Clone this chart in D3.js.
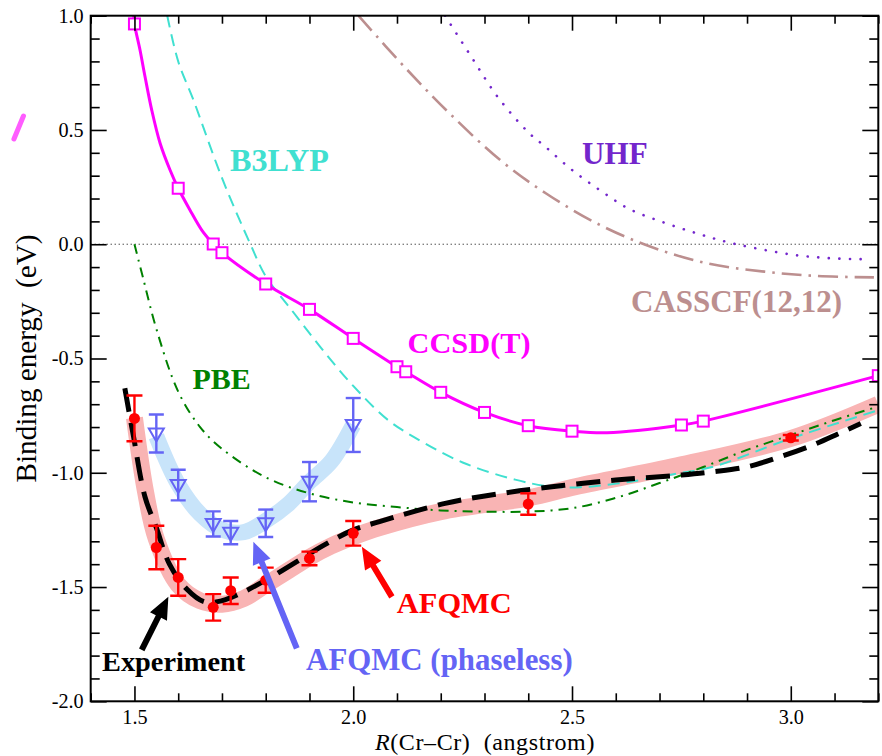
<!DOCTYPE html>
<html><head><meta charset="utf-8">
<script src="https://cdn.jsdelivr.net/npm/d3@7"></script>
<style>
body{margin:0;background:#fff;}
svg{display:block;}
</style>
</head><body>
<svg id="chart" width="882" height="756"></svg>
<script>
// ---------------- data ----------------
const xMajorTicks = [1.5, 2.0, 2.5, 3.0];
const xTickLabels = ["1.5", "2.0", "2.5", "3.0"];
const yMajorTicks = [1.0, 0.5, 0.0, -0.5, -1.0, -1.5, -2.0];
const yTickLabels = ["1.0", "0.5", "0.0", "-0.5", "-1.0", "-1.5", "-2.0"];

// CCSD(T) computed points
const ccsdR = [1.5, 1.6, 1.68, 1.7, 1.8, 1.9, 2.0, 2.1, 2.12, 2.2, 2.3, 2.4, 2.5, 2.75, 2.8, 3.2];
const ccsdE = [0.964, 0.245, 0.001, -0.037, -0.174, -0.285, -0.412, -0.536, -0.558, -0.648, -0.736, -0.794, -0.818, -0.791, -0.774, -0.575];
// CCSD(T) fitted curve
const ccsdFitR = [1.4985, 1.5, 1.5127, 1.5242, 1.5395, 1.5586, 1.5813, 1.6, 1.6268, 1.6538, 1.68, 1.70, 1.8, 1.9, 2.0, 2.1, 2.12, 2.2, 2.3, 2.4, 2.5, 2.58, 2.75, 2.8, 3.2];
const ccsdFitE = [1.0, 0.964, 0.85, 0.733, 0.587, 0.442, 0.325, 0.245, 0.15, 0.062, 0.001, -0.037, -0.174, -0.285, -0.412, -0.536, -0.558, -0.648, -0.736, -0.794, -0.818, -0.825, -0.791, -0.774, -0.575];

// B3LYP
const b3lypR = [1.575, 1.60, 1.635, 1.70, 1.765, 1.80, 1.86, 1.925, 2.0, 2.08, 2.14, 2.25, 2.37, 2.45, 2.52, 2.63, 2.75, 2.82, 3.0, 3.2];
const b3lypE = [1.0, 0.80, 0.63, 0.29, 0.0, -0.14, -0.29, -0.45, -0.62, -0.77, -0.845, -0.955, -1.03, -1.06, -1.063, -1.04, -1.0, -0.975, -0.85, -0.726];

// PBE
const pbeR = [1.5, 1.52, 1.55, 1.6, 1.65, 1.7, 1.8, 1.9, 2.0, 2.1, 2.2, 2.3, 2.4, 2.5, 2.6, 2.7, 2.8, 2.9, 3.0, 3.1, 3.2];
const pbeE = [0.0, -0.15, -0.37, -0.645, -0.80, -0.895, -1.02, -1.09, -1.13, -1.15, -1.165, -1.17, -1.17, -1.155, -1.11, -1.045, -0.975, -0.90, -0.835, -0.77, -0.71];

// UHF
const uhfR = [2.21, 2.27, 2.33, 2.40, 2.44, 2.50, 2.565, 2.63, 2.71, 2.79, 2.86, 2.94, 3.02, 3.10, 3.18];
const uhfE = [1.0, 0.82, 0.645, 0.49, 0.425, 0.325, 0.235, 0.155, 0.095, 0.045, 0.007, -0.025, -0.05, -0.062, -0.066];

// CASSCF(12,12)
const casR = [2.012, 2.12, 2.22, 2.336, 2.44, 2.557, 2.68, 2.81, 2.94, 3.06, 3.19];
const casE = [1.0, 0.77, 0.573, 0.368, 0.223, 0.091, -0.011, -0.084, -0.12, -0.139, -0.145];

// Experiment
const expR = [1.478, 1.498, 1.524, 1.55, 1.58, 1.62, 1.66, 1.70, 1.74, 1.80, 1.87, 1.93, 2.0, 2.06, 2.21, 2.38, 2.6, 2.75, 2.82, 2.9, 2.975, 3.05, 3.11, 3.16];
const expE = [-0.63, -0.843, -1.105, -1.24, -1.40, -1.51, -1.565, -1.56, -1.53, -1.47, -1.39, -1.32, -1.25, -1.214, -1.134, -1.079, -1.032, -1.01, -0.996, -0.974, -0.93, -0.879, -0.828, -0.784];

// AFQMC (free projection) data + fit band
const afqR = [1.5, 1.55, 1.6, 1.68, 1.72, 1.8, 1.9, 2.0, 2.4, 3.0];
const afqE = [-0.762, -1.327, -1.458, -1.589, -1.516, -1.47, -1.375, -1.265, -1.137, -0.847];
const afqErr = [0.10, 0.095, 0.08, 0.058, 0.058, 0.055, 0.03, 0.054, 0.047, 0.012];
const afqBandR = [1.5, 1.525, 1.55, 1.6, 1.65, 1.7, 1.75, 1.8, 1.85, 1.9, 1.95, 2.0, 2.06, 2.2, 2.4, 2.51, 2.74, 3.0, 3.2];
const afqBandE = [-0.76, -1.08, -1.29, -1.49, -1.56, -1.575, -1.55, -1.49, -1.43, -1.37, -1.32, -1.28, -1.24, -1.17, -1.11, -1.06, -0.97, -0.85, -0.70];

// AFQMC (phaseless) data + fit band
const phR = [1.55, 1.6, 1.68, 1.72, 1.8, 1.9, 2.0];
const phE = [-0.828, -1.054, -1.224, -1.262, -1.221, -1.039, -0.791];
const phErr = [0.083, 0.067, 0.055, 0.051, 0.06, 0.086, 0.118];
const phBandR = [1.55, 1.6, 1.65, 1.7, 1.75, 1.8, 1.85, 1.9, 1.95, 2.0];
const phBandE = [-0.84, -1.05, -1.18, -1.25, -1.26, -1.21, -1.14, -1.04, -0.95, -0.79];

// annotation arrows (tail -> tip, data units)
const arrowTails = [[1.5166, -1.775], [1.871, -1.768], [2.0883, -1.543]];
const arrowTips  = [[1.5775, -1.543], [1.7718, -1.302], [2.0197, -1.324]];
const arrowColors = ["#000000", "#6464f5", "#ff0000"];

// series labels (anchor in data units)
const labelTexts = ["B3LYP", "UHF", "CASSCF(12,12)", "CCSD(T)", "PBE", "Experiment", "AFQMC (phaseless)", "AFQMC"];
const labelR = [1.7185, 2.5228, 2.6349, 2.1242, 1.6328, 1.4258, 1.8923, 2.0997];
const labelE = [0.320, 0.351, -0.2954, -0.474, -0.635, -1.8665, -1.8635, -1.6153];
const labelColors = ["#40e0d0", "#7326cc", "#bc8f8f", "#ff00ff", "#008000", "#000000", "#6464f5", "#ff0000"];
const labelWidths = [99, 65.7, 211, 123, 58.3, 143.3, 266.7, 115];

// stray pen mark at left margin (data units)
const strayR = [1.2246, 1.2463];
const strayE = [0.4604, 0.561];

// ---------------- font selection ----------------
const ctx = document.createElement("canvas").getContext("2d");
function hasFont(name) {
  const s = "Binding energy 0123456789 ABCDEFG wxyz";
  for (const base of ["monospace", "sans-serif"]) {
    ctx.font = `30px ${base}`; const w0 = ctx.measureText(s).width;
    ctx.font = `30px "${name}", ${base}`; const w1 = ctx.measureText(s).width;
    if (Math.abs(w0 - w1) > 0.5) return true;
  }
  return false;
}
const candidates = ["Liberation Serif", "Tinos", "Times New Roman", "Nimbus Roman", "Nimbus Roman No9 L", "FreeSerif", "DejaVu Serif", "Noto Serif"];
const chosen = candidates.find(hasFont) || "serif";
const FONT = `"${chosen}", serif`;
function textW(t, size, weight, style) {
  ctx.font = `${style || "normal"} ${weight || "normal"} ${size}px ${FONT}`;
  return ctx.measureText(t).width;
}
function fitSize(t, target, weight, style) {
  return 30 * target / textW(t, 30, weight, style);
}

// ---------------- drawing ----------------
const svg = d3.select("#chart").style("font-family", FONT);
const L = 90.7, R = 878.3, T = 15.7, B = 701.3;
const x = d3.scaleLinear().domain([1.4, 3.2]).range([L, R]);
const y = d3.scaleLinear().domain([-2, 1]).range([B, T]);
const zip = (a, b) => a.map((v, i) => [v, b[i]]);

svg.append("defs").append("clipPath").attr("id", "clip")
  .append("rect").attr("x", L).attr("y", T).attr("width", R - L).attr("height", B - T);
const plot = svg.append("g").attr("clip-path", "url(#clip)");

const lineCR = d3.line().x(d => x(d[0])).y(d => y(d[1])).curve(d3.curveCatmullRom.alpha(0.5));

// zero line
plot.append("line").attr("x1", L).attr("x2", R).attr("y1", y(0)).attr("y2", y(0))
  .attr("stroke", "#000").attr("stroke-width", 1).attr("stroke-dasharray", "1,3");

// bands
plot.append("path").attr("d", lineCR(zip(phBandR, phBandE)))
  .attr("fill", "none").attr("stroke", "#c8e4fa").attr("stroke-width", 16);
plot.append("path").attr("d", lineCR(zip(afqBandR, afqBandE)))
  .attr("fill", "none").attr("stroke", "#f9b4b4").attr("stroke-width", 17);

// DFT / HF / CASSCF curves
plot.append("path").attr("d", lineCR(zip(casR, casE)))
  .attr("fill", "none").attr("stroke", "#bc8f8f").attr("stroke-width", 2.6).attr("stroke-dasharray", "20,7,2.5,7");
plot.append("path").attr("d", lineCR(zip(uhfR, uhfE)))
  .attr("fill", "none").attr("stroke", "#7326cc").attr("stroke-width", 2.6)
  .attr("stroke-linecap", "round").attr("stroke-dasharray", "0.1,10.5");
plot.append("path").attr("d", lineCR(zip(b3lypR, b3lypE)))
  .attr("fill", "none").attr("stroke", "#40e0d0").attr("stroke-width", 2).attr("stroke-dasharray", "12,7");
plot.append("path").attr("d", lineCR(zip(pbeR, pbeE)))
  .attr("fill", "none").attr("stroke", "#008000").attr("stroke-width", 2).attr("stroke-dasharray", "10,6,2,6");

// experiment
plot.append("path").attr("d", lineCR(zip(expR, expE)))
  .attr("fill", "none").attr("stroke", "#000").attr("stroke-width", 5).attr("stroke-dasharray", "24,11");

// CCSD(T)
plot.append("path").attr("d", lineCR(zip(ccsdFitR, ccsdFitE)))
  .attr("fill", "none").attr("stroke", "#ff00ff").attr("stroke-width", 3);
plot.selectAll("rect.sq").data(zip(ccsdR, ccsdE)).enter().append("rect")
  .attr("x", d => x(d[0]) - 5.5).attr("y", d => y(d[1]) - 5.5)
  .attr("width", 11).attr("height", 11)
  .attr("fill", "#fff").attr("stroke", "#ff00ff").attr("stroke-width", 2);

// error bars helper
function errorBars(Rs, Es, errs, color, cap) {
  const g = plot.append("g").attr("stroke", color).attr("stroke-width", 2.4).attr("fill", "none");
  Rs.forEach((r, i) => {
    const cx = x(r), y1 = y(Es[i] + errs[i]), y2 = y(Es[i] - errs[i]);
    g.append("line").attr("x1", cx).attr("x2", cx).attr("y1", y1).attr("y2", y2);
    g.append("line").attr("x1", cx - cap).attr("x2", cx + cap).attr("y1", y1).attr("y2", y1);
    g.append("line").attr("x1", cx - cap).attr("x2", cx + cap).attr("y1", y2).attr("y2", y2);
  });
}

// phaseless
errorBars(phR, phE, phErr, "#6464f5", 7.5);
plot.selectAll("path.tri").data(zip(phR, phE)).enter().append("path")
  .attr("d", d => {
    const cx = x(d[0]), cy = y(d[1]);
    return `M${cx - 7.5},${cy - 5}L${cx + 7.5},${cy - 5}L${cx},${cy + 8}Z`;
  })
  .attr("fill", "none").attr("stroke", "#6464f5").attr("stroke-width", 2);

// AFQMC
errorBars(afqR, afqE, afqErr, "#ff0000", 8);
plot.selectAll("circle.af").data(zip(afqR, afqE)).enter().append("circle")
  .attr("cx", d => x(d[0])).attr("cy", d => y(d[1])).attr("r", 5.5).attr("fill", "#ff0000");

// arrows
arrowTails.forEach((t, i) => {
  const x0 = x(t[0]), y0 = y(t[1]), x1 = x(arrowTips[i][0]), y1 = y(arrowTips[i][1]);
  const dx = x1 - x0, dy = y1 - y0, len = Math.hypot(dx, dy);
  const ux = dx / len, uy = dy / len, px = -uy, py = ux;
  const hl = 22, hw = 9.5, sw = 3;
  const bx = x1 - ux * hl, by = y1 - uy * hl;
  const pts = [
    [x0 + px * sw, y0 + py * sw], [bx + px * sw, by + py * sw], [bx + px * hw, by + py * hw],
    [x1, y1], [bx - px * hw, by - py * hw], [bx - px * sw, by - py * sw], [x0 - px * sw, y0 - py * sw]
  ];
  svg.append("polygon").attr("points", pts.map(p => p.join(",")).join(" ")).attr("fill", arrowColors[i]);
});

// labels
labelTexts.forEach((txt, i) => {
  svg.append("text").attr("x", x(labelR[i])).attr("y", y(labelE[i]))
    .attr("fill", labelColors[i]).attr("font-weight", "bold")
    .attr("font-size", fitSize(txt, labelWidths[i], "bold").toFixed(2)).text(txt);
});

// stray mark
svg.append("line").attr("x1", x(strayR[0])).attr("y1", y(strayE[0]))
  .attr("x2", x(strayR[1])).attr("y2", y(strayE[1]))
  .attr("stroke", "#ff5cff").attr("stroke-width", 5).attr("stroke-linecap", "round");

// ---------------- axes ----------------
const tickFont = Math.min(22, fitSize("-0.5", 32));
const xMinor = d3.range(14, 33).map(v => v / 10).filter(v => !xMajorTicks.some(m => Math.abs(m - v) < 1e-6));
const yMinor = d3.range(-20, 11).map(v => v / 10).filter(v => !yMajorTicks.some(m => Math.abs(m - v) < 1e-6));
const fmtX = v => xTickLabels[xMajorTicks.findIndex(m => Math.abs(m - v) < 1e-6)];
const fmtY = v => yTickLabels[yMajorTicks.findIndex(m => Math.abs(m - v) < 1e-6)];

function styleAxis(g) {
  g.select(".domain").remove();
  g.selectAll("line").attr("stroke", "#000").attr("stroke-width", 1.6);
  g.selectAll("text").attr("font-size", tickFont).attr("fill", "#000").style("font-family", FONT);
}
// bottom
svg.append("g").attr("transform", `translate(0,${B})`)
  .call(d3.axisBottom(x).tickValues(xMajorTicks).tickFormat(fmtX).tickSize(-15).tickSizeOuter(0).tickPadding(8)).call(styleAxis);
svg.append("g").attr("transform", `translate(0,${B})`)
  .call(d3.axisBottom(x).tickValues(xMinor).tickFormat("").tickSize(-8).tickSizeOuter(0)).call(styleAxis);
// top
svg.append("g").attr("transform", `translate(0,${T})`)
  .call(d3.axisTop(x).tickValues(xMajorTicks).tickFormat("").tickSize(-15).tickSizeOuter(0)).call(styleAxis);
svg.append("g").attr("transform", `translate(0,${T})`)
  .call(d3.axisTop(x).tickValues(xMinor).tickFormat("").tickSize(-8).tickSizeOuter(0)).call(styleAxis);
// left
svg.append("g").attr("transform", `translate(${L},0)`)
  .call(d3.axisLeft(y).tickValues(yMajorTicks).tickFormat(fmtY).tickSize(-16).tickSizeOuter(0).tickPadding(7)).call(styleAxis);
svg.append("g").attr("transform", `translate(${L},0)`)
  .call(d3.axisLeft(y).tickValues(yMinor).tickFormat("").tickSize(-9).tickSizeOuter(0)).call(styleAxis);
// right
svg.append("g").attr("transform", `translate(${R},0)`)
  .call(d3.axisRight(y).tickValues(yMajorTicks).tickFormat("").tickSize(-16).tickSizeOuter(0)).call(styleAxis);
svg.append("g").attr("transform", `translate(${R},0)`)
  .call(d3.axisRight(y).tickValues(yMinor).tickFormat("").tickSize(-9).tickSizeOuter(0)).call(styleAxis);

// frame
svg.append("rect").attr("x", L).attr("y", T).attr("width", R - L).attr("height", B - T)
  .attr("fill", "none").attr("stroke", "#000").attr("stroke-width", 2);

// axis titles
const xTitleRest = "(Cr\u2013Cr)  (angstrom)";
const xt = svg.append("text").attr("x", (L + R) / 2 + 0.5).attr("y", 750).attr("text-anchor", "middle")
  .attr("font-size", 24).attr("letter-spacing", 0.6).style("white-space", "pre");
xt.append("tspan").attr("font-style", "italic").text("R");
xt.append("tspan").text(xTitleRest);

const yTitle = "Binding energy  (eV)";
svg.append("text").attr("transform", `translate(36,${(T + B) / 2}) rotate(-90)`)
  .attr("text-anchor", "middle").attr("font-size", Math.min(30, fitSize(yTitle, 248)).toFixed(2))
  .style("white-space", "pre").text(yTitle);
</script>
</body></html>
